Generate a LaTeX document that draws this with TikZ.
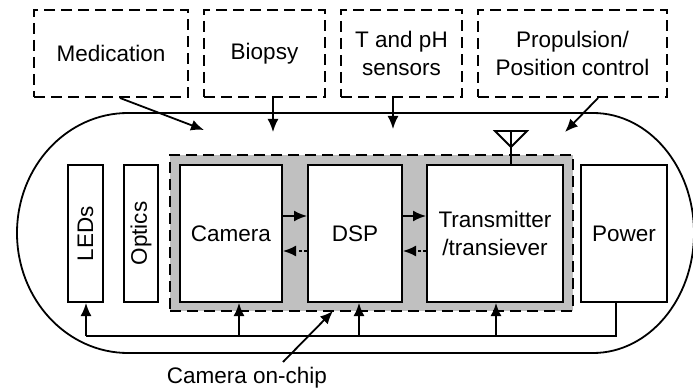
\documentclass[tikz,border=0pt]{standalone}
\usepackage{fontspec}
\setmainfont{Liberation Sans}
\usetikzlibrary{arrows.meta}
\definecolor{chipgray}{RGB}{192,192,192}
\begin{document}
\begin{tikzpicture}[x=1pt,y=1pt]
\tikzset{
  txt/.style={font=\fontsize{22.5}{28.5}\selectfont},
  dbox/.style={draw, dash pattern=on 11pt off 6pt, line width=2pt, inner sep=0pt, align=center, txt},
  blk/.style={draw, line width=2pt, fill=white, inner sep=0pt, minimum height=137pt, align=center, txt},
  arr/.style={-{Latex[length=13pt,width=11pt]}, line width=1.8pt},
  darr/.style={-{Latex[length=13pt,width=11pt]}, line width=1.8pt, dash pattern=on 3pt off 2.5pt},
  wire/.style={line width=1.8pt},
}
\useasboundingbox (0,0) rectangle (693,-390);
\fill[white] (0,0) rectangle (693,-390);

% top dashed boxes
\node[dbox, minimum width=154pt, minimum height=87pt] (med) at (111,-53.5) {Medication};
\node[dbox, minimum width=121pt, minimum height=87pt] (bio) at (264.5,-53.5) {Biopsy};
\node[dbox, minimum width=121pt, minimum height=87pt] (tph) at (401.5,-53.5) {T and pH\\sensors};
\node[dbox, minimum width=189pt, minimum height=87pt] (prop) at (572.5,-53.5) {Propulsion/\\Position control};

% capsule
\draw[wire] (128,-113) -- (593,-113)
  arc[start angle=90, end angle=-90, x radius=101pt, y radius=120pt]
  -- (128,-353)
  arc[start angle=270, end angle=90, x radius=111pt, y radius=120pt] -- cycle;

% camera on-chip region
\node[draw, fill=chipgray, dash pattern=on 11pt off 6pt, line width=2pt, minimum width=403pt, minimum height=156pt, inner sep=0pt] (chip) at (371.5,-233) {};

% blocks
\node[blk, minimum width=35pt] (leds) at (85.5,-233.5) {};
\node[rotate=90, txt] (ledstxt) at (85.5,-233.5) {LEDs};
\node[blk, minimum width=34pt] (opt) at (141,-233.5) {};
\node[rotate=90, txt] (opttxt) at (141,-233.5) {Optics};
\node[blk, minimum width=102pt] (cam) at (231,-233.5) {Camera};
\node[blk, minimum width=94pt] (dsp) at (355,-233.5) {DSP};
\node[blk, minimum width=136pt] (tx) at (495,-233.5) {Transmitter\\/transiever};
\node[blk, minimum width=86pt] (pow) at (624,-233.5) {Power};

% antenna
\coordinate (antb) at (511,-165);
\coordinate (antt) at (511,-131);
\draw[wire] (antb) -- (antt);
\draw[wire, line join=miter] (495,-131) -- (527,-131) -- (511,-147) -- cycle;

% data arrows
\draw[arr] (cam.east |- 0,-216) -- (dsp.west |- 0,-216);
\draw[darr] (dsp.west |- 0,-251) -- (cam.east |- 0,-251);
\draw[arr] (dsp.east |- 0,-216) -- (tx.west |- 0,-216);
\draw[darr] (tx.west |- 0,-251) -- (dsp.east |- 0,-251);

% power bus
\coordinate (busL) at (86,-336);
\coordinate (busR) at (616,-336);
\draw[wire] (pow.south -| busR) -- (busR) -- (busL);
\draw[arr] (busL) -- (leds.south -| busL);
\coordinate (bcam) at (239,-336);
\coordinate (bdsp) at (359,-336);
\coordinate (btx) at (496,-336);
\draw[arr] (bcam) -- (cam.south -| bcam);
\draw[arr] (bdsp) -- (dsp.south -| bdsp);
\draw[arr] (btx) -- (tx.south -| btx);

% top arrows
\coordinate (medt) at (204,-130);
\coordinate (biot) at (273,-132);
\coordinate (tpht) at (393,-129);
\coordinate (propt) at (565,-132);
\draw[arr] (med.south -| 120,0) -- (medt);
\draw[arr] (bio.south -| biot) -- (biot);
\draw[arr] (tph.south -| tpht) -- (tpht);
\draw[arr] (prop.south -| 598,0) -- (propt);

% label
\node[txt] (oc) at (247,-378) {Camera on-chip};
\coordinate (octip) at (333,-311);
\draw[arr] (283,-362) -- (octip);
\end{tikzpicture}
\end{document}
